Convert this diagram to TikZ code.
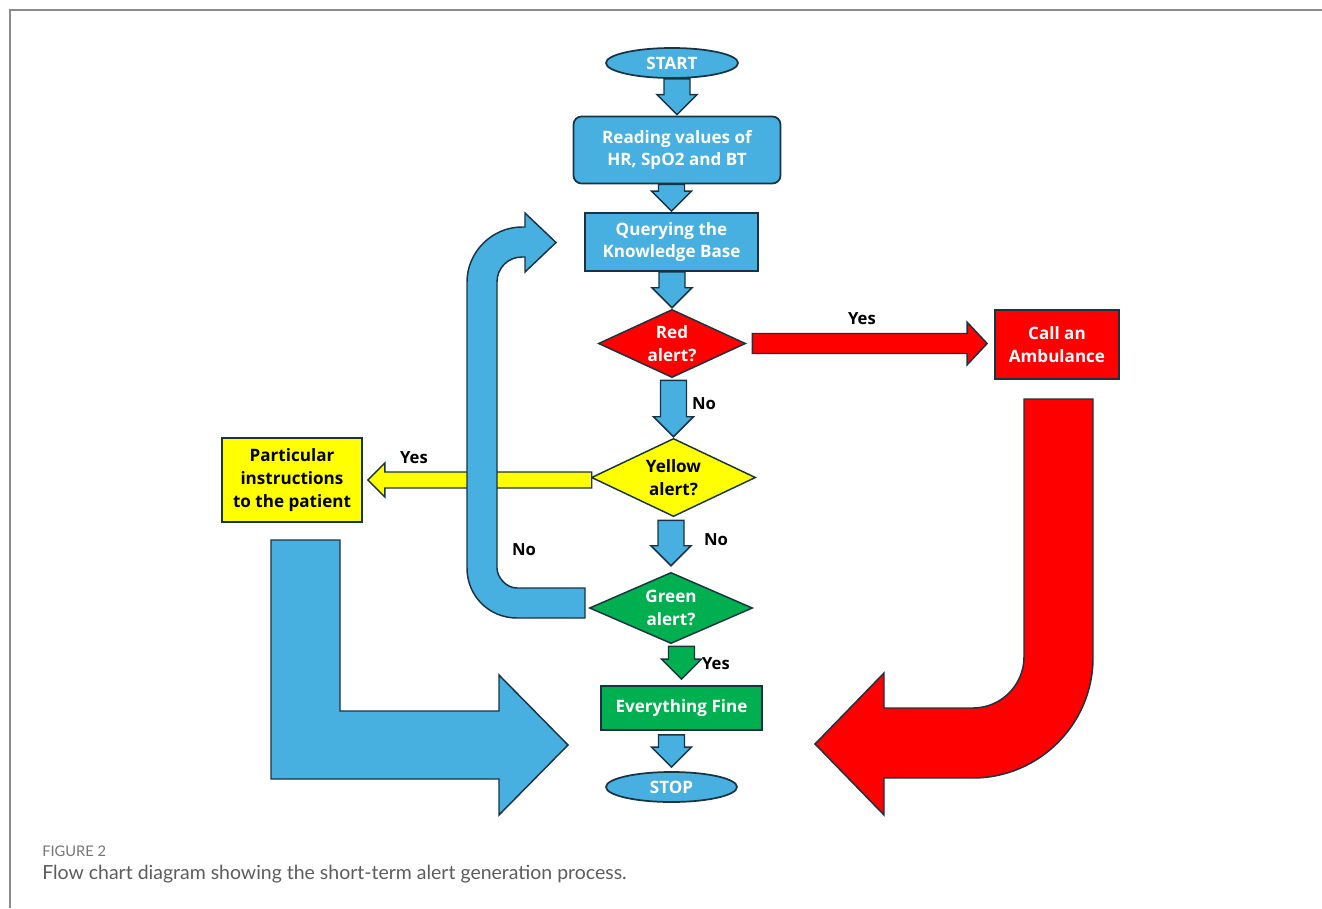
\documentclass[tikz,border=0pt]{standalone}
\usepackage{fontspec}
\setmainfont{Lato}
\newfontfamily\boxfont{Open Sans}
\usetikzlibrary{shapes.geometric,calc}
\definecolor{fcblue}{HTML}{47B0E0}
\definecolor{fcred}{HTML}{FF0000}
\definecolor{fcyel}{HTML}{FFFF00}
\definecolor{fcgreen}{HTML}{00B050}
\definecolor{fcline}{HTML}{1A3342}
\definecolor{frame}{HTML}{8C8C8C}
\definecolor{captxt}{HTML}{5C5C5C}
\newcommand{\vdown}[3]{%
  \draw[arrline, fill=#1] let \p1=#2, \p2=#3 in
  (\x2-9.75pt,\y1) -- (\x2-9.75pt,\y2+15pt) -- (\x2-15pt,\y2+15pt) -- (\x2,\y2)
  -- (\x2+15pt,\y2+15pt) -- (\x2+9.75pt,\y2+15pt) -- (\x2+9.75pt,\y1) -- cycle;}
\begin{document}
\begin{tikzpicture}[x=0.75pt,y=-0.75pt,
  box/.style={draw=fcline, line width=1.3pt, inner sep=0pt, align=center,
    font=\boxfont\bfseries\fontsize{12.8}{16.8}\selectfont, text=white},
  dia/.style={rectangle, inner sep=0pt, align=center,
    font=\boxfont\bfseries\fontsize{12.8}{16.8}\selectfont, text=white},
  arrline/.style={draw=fcline, line width=1.1pt, line join=miter},
  lbl/.style={font=\boxfont\bfseries\fontsize{12.5}{15}\selectfont, text=black, inner sep=0pt}]
\useasboundingbox (0,0) rectangle (1322,908);
% frame
\draw[frame, line width=1.3pt] (10,908) -- (10,10) -- (1322,10);
% nodes
\node[box, ellipse, fill=fcblue, minimum width=99pt, minimum height=22.5pt] (start) at (672,63) {START};
\node[box, fill=fcblue, rounded corners=6pt, minimum width=155.25pt, minimum height=50.25pt] (read) at (677,150) {Reading values of\\HR, SpO2 and BT};
\node[box, fill=fcblue, minimum width=129.75pt, minimum height=43.5pt] (query) at (671.5,242) {Querying the\\Knowledge Base};
\node[dia, minimum width=109.5pt, minimum height=50.25pt] (red) at (672,343.5) {};
\draw[arrline, fill=fcred] (red.west) -- (red.north) -- (red.east) -- (red.south) -- cycle;
\node[dia] at (red.center) {Red\\alert?};
\node[box, fill=fcred, minimum width=93pt, minimum height=51.75pt] (amb) at (1057,344.5) {Call an\\Ambulance};
\node[dia, minimum width=122.25pt, minimum height=57.75pt] (yel) at (673.5,477.5) {};
\draw[arrline, fill=fcyel] (yel.west) -- (yel.north) -- (yel.east) -- (yel.south) -- cycle;
\node[dia, text=black] at (yel.center) {Yellow\\alert?};
\node[box, fill=fcyel, text=black, minimum width=105pt, minimum height=63pt, font=\boxfont\bfseries\fontsize{12.8}{17.2}\selectfont] (part) at (292,480) {Particular\\instructions\\to the patient};
\node[dia, minimum width=121.5pt, minimum height=52.5pt] (grn) at (671,608) {};
\draw[arrline, fill=fcgreen] (grn.west) -- (grn.north) -- (grn.east) -- (grn.south) -- cycle;
\node[dia] at (grn.center) {Green\\alert?};
\node[box, fill=fcgreen, minimum width=120.75pt, minimum height=33pt] (fine) at (681.5,708) {Everything Fine};
\node[box, ellipse, fill=fcblue, minimum width=98.25pt, minimum height=22.5pt] (stop) at (671.5,787) {STOP};
% vertical block arrows
\vdown{fcblue}{(start.south)}{($(read.north)+(0,-1)$)}
\vdown{fcblue}{(read.south)}{($(query.north)+(0,-1)$)}
\vdown{fcblue}{(query.south)}{($(red.north)+(0,-2)$)}
\vdown{fcblue}{($(red.south)+(0,3)$)}{($(yel.north)+(0,-2)$)}
\vdown{fcblue}{($(yel.south)+(0,4)$)}{($(grn.north)+(0,-7)$)}
\vdown{fcgreen}{($(grn.south)+(0,3)$)}{($(fine.north)+(0,-6)$)}
\vdown{fcblue}{($(fine.south)+(0,4)$)}{($(stop.north)+(0,-4)$)}
% red yes arrow
\draw[arrline, fill=fcred] let \p1=($(red.east)+(7,0)$), \p2=($(amb.west)+(-7,0)$) in
  (\x1,\y1-7.5pt) -- (\x2-15pt,\y1-7.5pt) -- (\x2-15pt,\y1-16pt) -- (\x2,\y1)
  -- (\x2-15pt,\y1+16pt) -- (\x2-15pt,\y1+7.5pt) -- (\x1,\y1+7.5pt) -- cycle;
% yellow yes arrow
\draw[arrline, fill=fcyel] let \p1=(yel.west), \p2=($(part.east)+(5,0)$) in
  (\x1,\y2-6pt) -- (\x2+12.75pt,\y2-6pt) -- (\x2+12.75pt,\y2-12.75pt) -- (\x2,\y2)
  -- (\x2+12.75pt,\y2+12.75pt) -- (\x2+12.75pt,\y2+6pt) -- (\x1,\y2+6pt) -- cycle;
% loop back arrow (No from green)
\draw[arrline, fill=fcblue] (585,588) -- (517,588) .. controls (506,588) and (497,577) .. (497,568)
  -- (497,282) .. controls (497,268) and (508,257) .. (522,257)
  -- (525,257) -- (525,272) -- (556,242.5) -- (525,213) -- (525,227) -- (522,227)
  .. controls (492,227) and (467,252) .. (467,282)
  -- (467,568) .. controls (467,596) and (489,618) .. (517,618)
  -- (585,618) -- cycle;
% big blue L arrow
\draw[arrline, fill=fcblue] (271,540) -- (340,540) -- (340,711) -- (499,711) -- (499,675)
  -- (568,745) -- (499,815) -- (499,779) -- (271,779) -- cycle;
% big red J arrow
\draw[arrline, fill=fcred] (1024,399) -- (1093,399) -- (1093,658)
  .. controls (1093,724) and (1039,778) .. (973,778) -- (884,778) -- (884,815)
  -- (815,744) -- (884,673) -- (884,708) -- (973,708)
  .. controls (1001,708) and (1024,685) .. (1024,657) -- cycle;
% labels
\node[lbl] (l1) at (862,319) {Yes};
\node[lbl] (l2) at (704,404) {No};
\node[lbl] (l3) at (414,458) {Yes};
\node[lbl] (l4) at (716,540) {No};
\node[lbl] (l5) at (524,550) {No};
\node[lbl] (l6) at (716,664) {Yes};
% caption
\node[anchor=west, inner sep=0pt, text=captxt!85, font=\fontsize{11}{13}\selectfont] (fig) at (42,851) {FIGURE 2};
\node[anchor=west, inner sep=0pt, text=captxt, font=\fontsize{14.6}{17}\selectfont] (cap) at (42,874) {Flow chart diagram showing the short-term alert generation process.};
\end{tikzpicture}
\end{document}
